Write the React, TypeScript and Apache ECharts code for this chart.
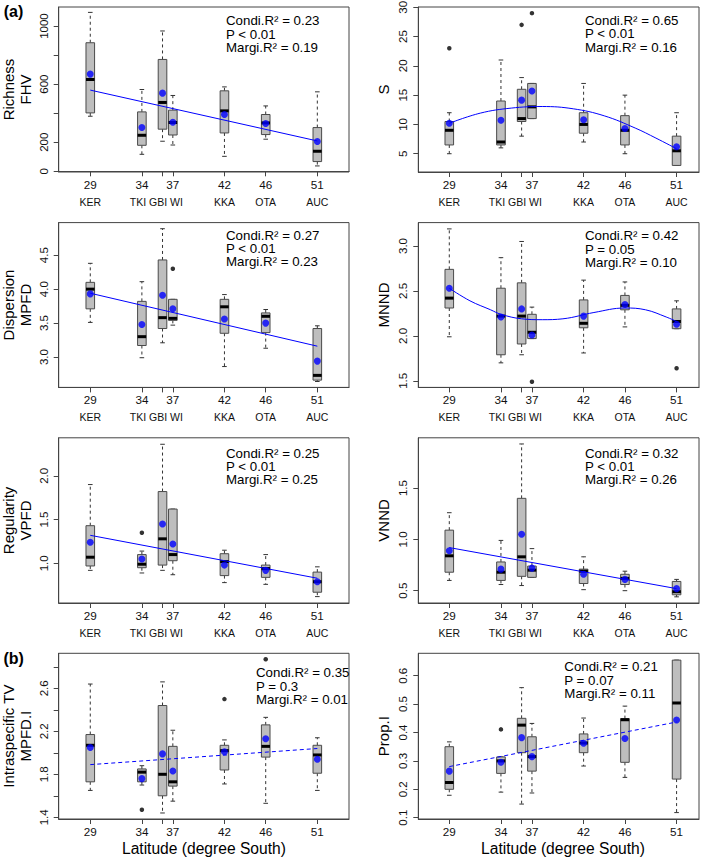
import React, { useEffect, useRef } from "react";
import * as echarts from "echarts";

const FONT = '"Liberation Sans", Arial, Helvetica, sans-serif';

// ---------- data ----------
// Site latitudes (degree South)
const siteLat = [29, 34, 36, 37, 42, 46, 51];
const latTickValues = [29, 34, 36, 37, 42, 46, 51];
const latLabelValues = [29, 34, 37, 42, 46, 51];
const siteNameLat = [29, 35.4, 42, 46, 51];
const siteNameText = ["KER", "TKI GBI WI", "KKA", "OTA", "AUC"];

// Boxes: [lower whisker, Q1, median, Q3, upper whisker] per site (KER, TKI, GBI, WI, KKA, OTA, AUC)
const fhvBoxes = [
  [379, 402, 632, 885, 1094],
  [117, 179, 248, 409, 563],
  [207, 290, 474, 770, 966],
  [181, 250, 336, 421, 522],
  [103, 264, 416, 554, 581],
  [221, 253, 333, 391, 450],
  [37, 67, 138, 301, 547],
];
const fhvMeans = [669, 301, 538, 338, 391, 329, 205];
const fhvOutliers: number[][] = [];
const fhvFit = [[29, 559], [51, 209]];
const fhvStats = ["Condi.R² = 0.23", "P < 0.01", "Margi.R² = 0.19"];
const fhvTicks = [0, 200, 400, 600, 800, 1000];
const fhvTickLabels = [0, 200, 600, 1000];

const sBoxes = [
  [5, 6.5, 9, 10.5, 12],
  [6, 6.5, 7, 14, 21],
  [8, 10.5, 11, 16, 18],
  [11, 11, 13, 17, 17],
  [7, 8.5, 10, 12, 17],
  [5, 6.5, 9, 11.5, 15],
  [3, 3, 5.5, 8, 12],
];
const sMeans = [10.2, 10.7, 14.15, 15.7, 10.8, 9.3, 6.2];
const sOutliers = [[29, 23], [36, 27], [37, 29]];
const sFit = [[29, 10.2], [32, 11.93], [35, 12.79], [38, 13.06], [41, 12.67], [44, 11.47], [47, 9.38], [49, 7.67], [51, 5.85]];
const sStats = ["Condi.R² = 0.65", "P < 0.01", "Margi.R² = 0.16"];
const sTicks = [5, 10, 15, 20, 25, 30];
const sTickLabels = [5, 10, 15, 20, 25, 30];

const mpfdBoxes = [
  [3.51, 3.71, 4.0, 4.1, 4.38],
  [2.99, 3.17, 3.3, 3.82, 4.11],
  [3.21, 3.42, 3.58, 4.43, 4.89],
  [3.47, 3.54, 3.57, 3.85, 3.85],
  [2.86, 3.35, 3.74, 3.85, 3.92],
  [3.13, 3.36, 3.6, 3.65, 3.7],
  [2.64, 2.66, 2.73, 3.42, 3.46],
];
const mpfdMeans = [3.93, 3.48, 3.91, 3.71, 3.56, 3.5, 2.94];
const mpfdOutliers = [[37, 4.3]];
const mpfdFit = [[29, 3.94], [51, 3.16]];
const mpfdStats = ["Condi.R² = 0.27", "P < 0.01", "Margi.R² = 0.23"];
const mpfdTicks = [3.0, 3.5, 4.0, 4.5];
const mpfdTickLabels = [3.0, 3.5, 4.0, 4.5];

const mnndBoxes = [
  [1.99, 2.31, 2.42, 2.74, 3.19],
  [1.7, 1.79, 2.22, 2.53, 2.87],
  [1.79, 1.91, 2.22, 2.59, 3.05],
  [1.97, 1.97, 2.04, 2.24, 2.32],
  [1.81, 2.09, 2.14, 2.4, 2.62],
  [2.1, 2.29, 2.34, 2.45, 2.6],
  [2.08, 2.08, 2.16, 2.3, 2.39],
];
const mnndMeans = [2.53, 2.21, 2.3, 2.01, 2.22, 2.35, 2.13];
const mnndOutliers = [[37, 1.49], [51, 1.64]];
const mnndFit = [[29, 2.53], [31, 2.39], [33, 2.29], [34, 2.24], [36, 2.19], [38, 2.18], [40, 2.19], [43, 2.26], [46, 2.31], [48, 2.29], [50, 2.21], [51, 2.16]];
const mnndStats = ["Condi.R² = 0.42", "P = 0.05", "Margi.R² = 0.10"];
const mnndTicks = [1.5, 2.0, 2.5, 3.0];
const mnndTickLabels = [1.5, 2.0, 2.5, 3.0];

const vpfdBoxes = [
  [0.92, 0.97, 1.07, 1.43, 1.9],
  [0.89, 0.95, 0.99, 1.1, 1.14],
  [0.92, 0.98, 1.28, 1.82, 2.36],
  [0.87, 1.03, 1.1, 1.62, 1.62],
  [0.78, 0.86, 1.02, 1.11, 1.15],
  [0.76, 0.84, 0.94, 0.98, 1.1],
  [0.62, 0.67, 0.79, 0.9, 0.96],
];
const vpfdMeans = [1.24, 1.05, 1.45, 1.22, 0.98, 0.92, 0.79];
const vpfdOutliers = [[34, 1.35]];
const vpfdFit = [[29, 1.32], [51, 0.83]];
const vpfdStats = ["Condi.R² = 0.25", "P < 0.01", "Margi.R² = 0.25"];
const vpfdTicks = [1.0, 1.5, 2.0];
const vpfdTickLabels = [1.0, 1.5, 2.0];

const vnndBoxes = [
  [0.6, 0.68, 0.84, 1.09, 1.26],
  [0.56, 0.6, 0.68, 0.78, 0.99],
  [0.55, 0.64, 0.83, 1.4, 1.93],
  [0.63, 0.63, 0.7, 0.74, 0.91],
  [0.51, 0.57, 0.69, 0.71, 0.83],
  [0.5, 0.56, 0.62, 0.66, 0.69],
  [0.44, 0.46, 0.49, 0.59, 0.61],
];
const vnndMeans = [0.89, 0.71, 1.05, 0.72, 0.66, 0.61, 0.52];
const vnndOutliers: number[][] = [];
const vnndFit = [[29, 0.92], [51, 0.52]];
const vnndStats = ["Condi.R² = 0.32", "P < 0.01", "Margi.R² = 0.26"];
const vnndTicks = [0.5, 1.0, 1.5];
const vnndTickLabels = [0.5, 1.0, 1.5];

const mpfdiBoxes = [
  [1.65, 1.73, 2.07, 2.17, 2.64],
  [1.7, 1.73, 1.82, 1.85, 1.88],
  [1.44, 1.6, 1.8, 2.44, 2.66],
  [1.55, 1.69, 1.73, 2.06, 2.21],
  [1.71, 1.84, 2.02, 2.07, 2.12],
  [1.53, 1.96, 2.06, 2.26, 2.33],
  [1.65, 1.81, 1.98, 2.07, 2.14],
];
const mpfdiMeans = [2.05, 1.76, 1.99, 1.83, 2.01, 2.13, 1.94];
const mpfdiOutliers = [[34, 1.47], [42, 2.5], [46, 2.87]];
const mpfdiFit = [[29, 1.89], [51, 2.04]];
const mpfdiStats = ["Condi.R² = 0.35", "P = 0.3", "Margi.R² = 0.01"];
const mpfdiTicks = [1.4, 1.6, 1.8, 2.0, 2.2, 2.4, 2.6, 2.8];
const mpfdiTickLabels = [1.4, 1.8, 2.2, 2.6];

const propiBoxes = [
  [0.179, 0.2, 0.224, 0.35, 0.367],
  [0.19, 0.256, 0.3, 0.314, 0.314],
  [0.148, 0.329, 0.426, 0.45, 0.558],
  [0.187, 0.264, 0.315, 0.385, 0.432],
  [0.282, 0.329, 0.363, 0.395, 0.451],
  [0.242, 0.295, 0.445, 0.449, 0.493],
  [0.118, 0.236, 0.504, 0.655, 0.655],
];
const propiMeans = [0.264, 0.295, 0.382, 0.315, 0.362, 0.379, 0.444];
const propiOutliers = [[34, 0.411]];
const propiFit = [[29, 0.28], [51, 0.437]];
const propiStats = ["Condi.R² = 0.21", "P = 0.07", "Margi.R² = 0.11"];
const propiTicks = [0.1, 0.2, 0.3, 0.4, 0.5, 0.6];
const propiTickLabels = [0.1, 0.2, 0.3, 0.4, 0.5, 0.6];

const yTitles = ["Richness\nFHV", "S", "Dispersion\nMPFD", "MNND", "Regularity\nVPFD", "VNND", "Intraspecific TV\nMPFD.I", "Prop.I"];
const xTitle = "Latitude (degree South)";
const panelLetters = ["(a)", "(b)"];

// ---------- assembling ----------
const allBoxes = [fhvBoxes, sBoxes, mpfdBoxes, mnndBoxes, vpfdBoxes, vnndBoxes, mpfdiBoxes, propiBoxes];
const allMeans = [fhvMeans, sMeans, mpfdMeans, mnndMeans, vpfdMeans, vnndMeans, mpfdiMeans, propiMeans];
const allOutliers = [fhvOutliers, sOutliers, mpfdOutliers, mnndOutliers, vpfdOutliers, vnndOutliers, mpfdiOutliers, propiOutliers];
const allFits = [fhvFit, sFit, mpfdFit, mnndFit, vpfdFit, vnndFit, mpfdiFit, propiFit];
const allStats = [fhvStats, sStats, mpfdStats, mnndStats, vpfdStats, vnndStats, mpfdiStats, propiStats];
const allTicks = [fhvTicks, sTicks, mpfdTicks, mnndTicks, vpfdTicks, vnndTicks, mpfdiTicks, propiTicks];
const allTickLabels = [fhvTickLabels, sTickLabels, mpfdTickLabels, mnndTickLabels, vpfdTickLabels, vnndTickLabels, mpfdiTickLabels, propiTickLabels];
const tickDecimals = [0, 0, 1, 1, 1, 1, 1, 1];
const fitSmooth = [false, true, false, true, false, false, false, false];
const fitDashed = [false, false, false, false, false, false, true, true];

// ---------- layout ----------
const COLS = [
  { left: 58.7, width: 290.3, xMin: 25.94, xMax: 54.07, titleX: 17, statX: 226 },
  { left: 418.3, width: 280.7, xMin: 26.0, xMax: 53.17, titleX: 383, statX: 585 },
];
const ROWS = [
  { top: 7, height: 165 },
  { top: 222.6, height: 164.8 },
  { top: 437.8, height: 165.2 },
  { top: 653.3, height: 165.7 },
];
const Y_RANGE = [
  [-4.8, 1131],
  [1.88, 30.05],
  [2.553, 4.98],
  [1.427, 3.26],
  [0.547, 2.434],
  [0.38, 1.99],
  [1.384, 2.926],
  [0.0954, 0.679],
];
// vertical centre of the middle line of each statistics block
const STAT_Y = [34.3, 33.8, 248.4, 249.2, 466.4, 466.5, 686.2, 680.1];
const STAT_X_OVERRIDE: Record<number, number> = { 6: 256, 7: 564.3 };

const AXIS_COLOR = "#444";

function buildOption() {
  const grid: any[] = [];
  const xAxis: any[] = [];
  const yAxis: any[] = [];
  const series: any[] = [];
  const graphic: any[] = [];

  for (let p = 0; p < 8; p++) {
    const col = COLS[p % 2];
    const rowIdx = Math.floor(p / 2);
    const row = ROWS[rowIdx];
    grid.push({
      left: col.left,
      top: row.top,
      width: col.width,
      height: row.height,
      show: true,
      borderColor: AXIS_COLOR,
      borderWidth: 1,
      backgroundColor: "transparent",
      containLabel: false,
      outerBoundsMode: "none",
    });

    const xi = xAxis.length;
    xAxis.push({
      type: "value",
      gridIndex: p,
      min: col.xMin,
      max: col.xMax,
      position: "bottom",
      axisLine: { show: true, lineStyle: { color: AXIS_COLOR, width: 1 } },
      axisTick: { show: true, length: 5, lineStyle: { color: AXIS_COLOR }, customValues: latTickValues },
      axisLabel: {
        customValues: latLabelValues,
        fontSize: 11.7,
        fontFamily: FONT,
        color: "#111",
        margin: 6,
        formatter: (v: number) => String(Math.round(v)),
      },
      splitLine: { show: false },
    });
    if (rowIdx < 3) {
      xAxis.push({
        type: "value",
        gridIndex: p,
        min: col.xMin,
        max: col.xMax,
        position: "bottom",
        offset: 0,
        axisLine: { show: false },
        axisTick: { show: false },
        axisLabel: {
          customValues: siteNameLat,
          fontSize: 10.5,
          fontFamily: FONT,
          color: "#111",
          margin: 24,
          formatter: (v: number) => {
            let best = 0;
            for (let k = 0; k < siteNameLat.length; k++) {
              if (Math.abs(siteNameLat[k] - v) < Math.abs(siteNameLat[best] - v)) best = k;
            }
            return siteNameText[best];
          },
        },
        splitLine: { show: false },
      });
    }

    const dec = tickDecimals[p];
    yAxis.push({
      type: "value",
      gridIndex: p,
      min: Y_RANGE[p][0],
      max: Y_RANGE[p][1],
      axisLine: { show: true, lineStyle: { color: AXIS_COLOR, width: 1 } },
      axisTick: { show: true, length: 5, lineStyle: { color: AXIS_COLOR }, customValues: allTicks[p] },
      axisLabel: {
        customValues: allTickLabels[p],
        rotate: 90,
        fontSize: 11.5,
        fontFamily: FONT,
        color: "#111",
        margin: 9,
        formatter: (v: number) => v.toFixed(dec),
      },
      splitLine: { show: false },
    });

    // boxes
    series.push({
      type: "custom",
      xAxisIndex: xi,
      yAxisIndex: p,
      z: 2,
      silent: true,
      encode: { x: 0, y: [1, 2, 3, 4, 5] },
      data: allBoxes[p].map((b, i) => [siteLat[i], ...b]),
      renderItem: (_params: any, api: any) => {
        const x = api.value(0);
        const lo = api.coord([x, api.value(1)]);
        const q1 = api.coord([x, api.value(2)]);
        const md = api.coord([x, api.value(3)]);
        const q3 = api.coord([x, api.value(4)]);
        const hi = api.coord([x, api.value(5)]);
        const cx = lo[0];
        const hw = 4.3;
        const cw = 2.3;
        const children: any[] = [];
        const dash = { stroke: "#333", lineWidth: 1, lineDash: [3, 3], fill: null };
        const solid = { stroke: "#333", lineWidth: 1, fill: null };
        if (hi[1] < q3[1] - 0.5) {
          children.push({ type: "line", shape: { x1: cx, y1: q3[1], x2: cx, y2: hi[1] }, style: dash });
        }
        if (lo[1] > q1[1] + 0.5) {
          children.push({ type: "line", shape: { x1: cx, y1: q1[1], x2: cx, y2: lo[1] }, style: dash });
        }
        children.push({ type: "line", shape: { x1: cx - cw, y1: hi[1], x2: cx + cw, y2: hi[1] }, style: solid });
        children.push({ type: "line", shape: { x1: cx - cw, y1: lo[1], x2: cx + cw, y2: lo[1] }, style: solid });
        children.push({
          type: "rect",
          shape: { x: cx - hw, y: q3[1], width: hw * 2, height: q1[1] - q3[1] },
          style: { fill: "#bebebe", stroke: "#4a4a4a", lineWidth: 1 },
        });
        children.push({
          type: "line",
          shape: { x1: cx - hw, y1: md[1], x2: cx + hw, y2: md[1] },
          style: { stroke: "#000", lineWidth: 3 },
        });
        return { type: "group", children };
      },
    });

    // fitted line
    series.push({
      type: "line",
      xAxisIndex: xi,
      yAxisIndex: p,
      z: 3,
      silent: true,
      data: allFits[p],
      showSymbol: false,
      symbol: "none",
      smooth: fitSmooth[p] ? 0.4 : false,
      lineStyle: { color: "#0000ff", width: 1, type: fitDashed[p] ? [4, 3] : "solid" },
    });

    // outliers
    series.push({
      type: "scatter",
      xAxisIndex: xi,
      yAxisIndex: p,
      z: 4,
      silent: true,
      symbol: "circle",
      symbolSize: 4.5,
      itemStyle: { color: "#000" },
      data: allOutliers[p],
    });

    // means
    series.push({
      type: "scatter",
      xAxisIndex: xi,
      yAxisIndex: p,
      z: 5,
      silent: true,
      symbol: "circle",
      symbolSize: 7,
      itemStyle: { color: "#0000ff" },
      data: allMeans[p].map((m, i) => [siteLat[i], m]),
    });

    // y title
    graphic.push({
      type: "text",
      x: col.titleX,
      y: row.top + row.height / 2,
      rotation: Math.PI / 2,
      silent: true,
      style: {
        text: yTitles[p],
        fontSize: 15,
        fontFamily: FONT,
        fill: "#000",
        lineHeight: 17,
        align: "center",
        verticalAlign: "middle",
        textAlign: "center",
        textVerticalAlign: "middle",
      },
    });

    // statistics block
    const sx = STAT_X_OVERRIDE[p] !== undefined ? STAT_X_OVERRIDE[p] : col.statX;
    graphic.push({
      type: "text",
      x: sx,
      y: STAT_Y[p],
      silent: true,
      style: {
        text: allStats[p].join("\n"),
        fontSize: 13.3,
        lineHeight: 13.4,
        fontFamily: FONT,
        fill: "#000",
        align: "left",
        verticalAlign: "middle",
        textAlign: "left",
        textVerticalAlign: "middle",
      },
    });

    if (rowIdx === 3) {
      graphic.push({
        type: "text",
        x: p % 2 === 0 ? 203.9 : 563,
        y: 848.3,
        silent: true,
        style: {
          text: xTitle,
          fontSize: 15.6,
          fontFamily: FONT,
          fill: "#000",
          align: "center",
          verticalAlign: "middle",
          textAlign: "center",
          textVerticalAlign: "middle",
        },
      });
    }
  }

  graphic.push({
    type: "text",
    x: 13.5,
    y: 11.7,
    silent: true,
    style: { text: panelLetters[0], fontSize: 16, fontWeight: "bold", fontFamily: FONT, fill: "#000", align: "center", verticalAlign: "middle", textAlign: "center", textVerticalAlign: "middle" },
  });
  graphic.push({
    type: "text",
    x: 13.7,
    y: 658.3,
    silent: true,
    style: { text: panelLetters[1], fontSize: 16, fontWeight: "bold", fontFamily: FONT, fill: "#000", align: "center", verticalAlign: "middle", textAlign: "center", textVerticalAlign: "middle" },
  });

  return {
    animation: false,
    backgroundColor: "#ffffff",
    textStyle: { fontFamily: FONT },
    grid,
    xAxis,
    yAxis,
    series,
    graphic,
  };
}

export default function App() {
  const ref = useRef<HTMLDivElement>(null);
  useEffect(() => {
    if (!ref.current) return;
    const chart = echarts.init(ref.current, undefined, { renderer: "svg", width: 709, height: 857 });
    chart.setOption(buildOption() as any);
    return () => chart.dispose();
  }, []);
  return (
    <div
      ref={ref}
      style={{ position: "absolute", left: 0, top: 0, width: 709, height: 857, background: "#fff" }}
    />
  );
}
